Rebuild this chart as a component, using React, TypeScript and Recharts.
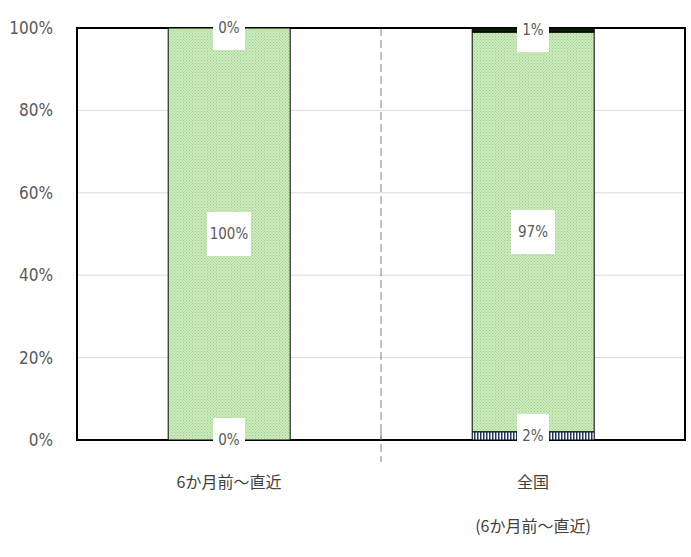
import { Bar, BarChart, CartesianGrid, ReferenceArea, ReferenceDot, XAxis, YAxis } from "recharts";

const categories = ["6か月前～直近", "全国\n(6か月前～直近)"];
const bottomValues = [0, 2];
const middleValues = [100, 97];
const topValues = [0, 1];
const yTicks = [0, 20, 40, 60, 80, 100];

const data = categories.map((name, i) => ({
  name,
  bottom: bottomValues[i],
  middle: middleValues[i],
  top: topValues[i],
}));

// label spots: middle of every stacked segment (zero segments included)
const labels = categories.flatMap((name, i) => {
  const segs = [bottomValues[i], middleValues[i], topValues[i]];
  let cum = 0;
  return segs.map((v) => {
    const mid = cum + v / 2;
    cum += v;
    return { name, y: mid, value: v };
  });
});

const FONT = "'DejaVu Sans Condensed', 'Noto Sans CJK JP', sans-serif";

const SegLabel = (props: any) => {
  const { cx, cy, value } = props;
  const text = `${value}%`;
  const w = Math.min(44, text.length * 12 + 8);
  return (
    <g>
      <rect x={cx - w / 2} y={cy - 22} width={w} height={44} fill="#fff" />
      <text
        x={cx}
        y={cy}
        textAnchor="middle"
        dominantBaseline="central"
        fill="#595959"
        fontSize={15}
        fontFamily={FONT}
      >
        {text}
      </text>
    </g>
  );
};

const XTick = (props: any) => {
  const { x, y, payload, index, width } = props;
  const lines = String(payload.value).split("\n");
  const sep = width ? x + width / 4 : null;
  return (
    <g>
      {index === 0 && sep !== null && (
        <line x1={sep} x2={sep} y1={y - 16} y2={y + 14} stroke="#808080" strokeDasharray="8 4" />
      )}
      {lines.map((l, i) => (
        <text
          key={i}
          x={x}
          y={y + 40 + i * 44}
          textAnchor="middle"
          fill="#404040"
          fontSize={16}
          fontFamily="'Noto Sans CJK JP', sans-serif"
        >
          {l}
        </text>
      ))}
    </g>
  );
};

export default function App() {
  return (
    <div style={{ position: "absolute", left: 0, top: 0, background: "#fff" }}>
      <BarChart
        width={691}
        height={557}
        data={data}
        margin={{ top: 28, right: 6, bottom: 0, left: 0 }}
        barCategoryGap="30%"
      >
        <defs>
          <pattern id="dots" width="3" height="3" patternUnits="userSpaceOnUse">
            <rect width="3" height="3" fill="#cdebbf" />
            <rect width="1" height="1" fill="#98cf83" />
            <rect x="1.5" y="1.5" width="1" height="1" fill="#98cf83" />
          </pattern>
          <pattern id="stripes" width="3" height="3" patternUnits="userSpaceOnUse">
            <rect width="3" height="3" fill="#fff" />
            <rect width="1.5" height="3" fill="#203864" />
          </pattern>
        </defs>
        <CartesianGrid vertical={false} stroke="#d9d9d9" />
        <CartesianGrid
          horizontal={false}
          stroke="#808080"
          strokeDasharray="8 4"
          verticalCoordinatesGenerator={({ offset }: any) => [offset.left + offset.width / 2]}
        />
        <XAxis
          dataKey="name"
          axisLine={false}
          tickLine={false}
          tick={<XTick />}
          height={117}
          interval={0}
        />
        <YAxis
          domain={[0, 100]}
          ticks={yTicks}
          tickFormatter={(v) => `${v}%`}
          axisLine={false}
          tickLine={false}
          width={77}
          tickMargin={18}
          tick={{ fill: "#595959", fontSize: 17, fontFamily: FONT }}
        />
        <ReferenceArea y1={0} y2={100} fill="none" stroke="#000" strokeWidth={2} fillOpacity={0} />
        <Bar dataKey="bottom" stackId="a" fill="url(#stripes)" stroke="#000" strokeWidth={1} isAnimationActive={false} />
        <Bar dataKey="middle" stackId="a" fill="url(#dots)" stroke="#000" strokeWidth={1} isAnimationActive={false} />
        <Bar dataKey="top" stackId="a" fill="#0b1a05" stroke="#000" strokeWidth={1} isAnimationActive={false} />
        {labels.map((l, i) => (
          <ReferenceDot
            key={i}
            x={l.name}
            y={l.y}
            r={0}
            ifOverflow="visible"
            shape={(p: any) => <SegLabel cx={p.cx} cy={p.cy} value={l.value} />}
          />
        ))}
      </BarChart>
    </div>
  );
}
